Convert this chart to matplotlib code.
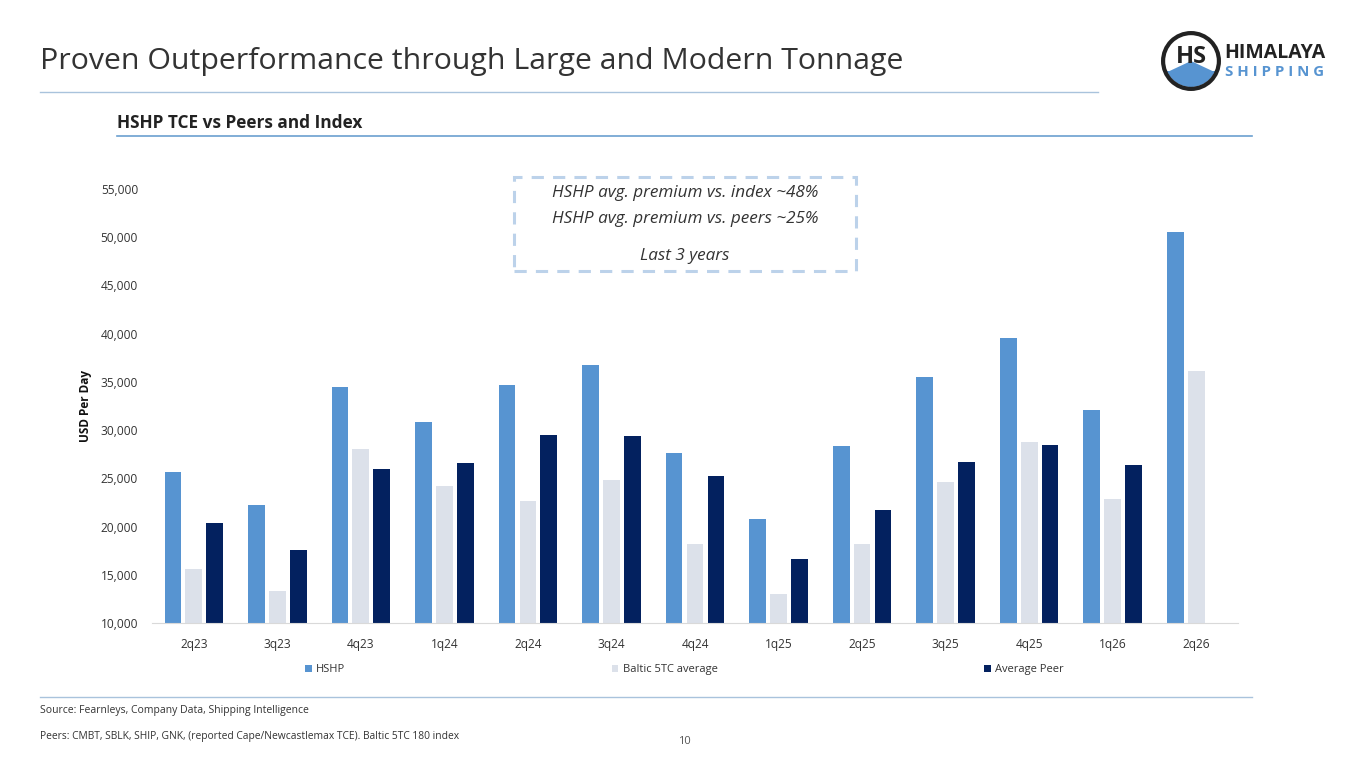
import matplotlib
import numpy as np

matplotlib.use("Agg")
import matplotlib.pyplot as plt  # noqa: E402
from matplotlib.patches import Circle, Rectangle, Wedge  # noqa: E402

plt.rcParams["font.family"] = ["Open Sans", "DejaVu Sans"]

# values, USD per day
quarters = ["2q23", "3q23", "4q23", "1q24", "2q24", "3q24", "4q24",
            "1q25", "2q25", "3q25", "4q25", "1q26", "2q26"]
hshp = [25630, 22200, 34480, 30820, 34700, 36800, 27670,
        20820, 28360, 35550, 39530, 32100, 50490]
baltic = [15600, 13350, 28080, 24180, 22600, 24830, 18200,
          13010, 18200, 24600, 28810, 22830, 36170]
peer = [20320, 17570, 25980, 26630, 29480, 29380, 25270,
        16660, 21720, 26680, 28480, 26370, np.nan]

SERIES = [("HSHP", hshp, "#5794d1"),
          ("Baltic 5TC average", baltic, "#dce1ea"),
          ("Average Peer", peer, "#03215f")]

fig = plt.figure(figsize=(13.65, 7.68), dpi=100)
W, H = 1365, 768


def fx(px):
    return px / W


def fy(py):
    return 1 - py / H


# header
fig.text(fx(40), fy(61), "Proven Outperformance through Large and Modern Tonnage",
         fontsize=21.8, color="#333333", va="center", ha="left")
fig.add_artist(plt.Line2D([fx(40), fx(1098)], [fy(92), fy(92)], color="#a9c3dc", lw=1))
fig.text(fx(117), fy(123), "HSHP TCE vs Peers and Index", fontsize=12.4, fontweight="bold",
         color="#222222", va="center", ha="left")
fig.add_artist(plt.Line2D([fx(117), fx(1252)], [fy(136), fy(136)], color="#6b9fd0", lw=1.2))

# logo
lg = fig.add_axes([fx(1160), fy(92), fx(62), 62 / H])
lg.set_xlim(-1, 1)
lg.set_ylim(-1, 1)
lg.set_aspect("equal")
lg.axis("off")
lg.add_patch(Wedge((0, 0), 0.84, 205, 335, color="#5794d1", lw=0))
lg.add_patch(Rectangle((-0.76, -0.38), 1.52, 0.06, color="#5794d1", lw=0))
lg.add_patch(Circle((0, 0), 0.9, fill=False, ec="#222222", lw=3))
lg.text(0, 0.12, "HS", fontsize=17, fontweight="bold", color="#222222", ha="center", va="center")
fig.text(fx(1224), fy(53), "HIMALAYA", fontsize=14, fontweight="bold", color="#222222",
         va="center", ha="left")
fig.text(fx(1225), fy(72), "S H I P P I N G", fontsize=10.8, fontweight="bold", color="#5794d1",
         va="center", ha="left")

# chart
ax = fig.add_axes([fx(152), fy(623), fx(1238 - 152), (623 - 189) / H])
x = np.arange(len(quarters))
step, width = 0.25, 0.2
for i, (label, vals, col) in enumerate(SERIES):
    ax.bar(x + (i - 1) * step, vals, width=width, color=col, label=label, zorder=2)

ax.set_xlim(-0.5, len(quarters) - 0.5)
ax.set_ylim(10000, 55000)
ax.set_yticks(np.arange(10000, 55001, 5000))
ax.yaxis.set_major_formatter(matplotlib.ticker.FuncFormatter(lambda v, p: f"{v:,.0f}"))
ax.set_xticks(x)
ax.set_xticklabels(quarters)
ax.tick_params(axis="both", length=0, labelsize=8.6, colors="#333333")
ax.tick_params(axis="y", pad=10)
ax.tick_params(axis="x", pad=11)
for s in ["top", "right", "left"]:
    ax.spines[s].set_visible(False)
ax.spines["bottom"].set_color("#d9d9d9")
ax.set_ylabel("USD Per Day", fontsize=8.5, fontweight="bold", color="#111111", labelpad=6)

fig.legend(loc="lower left", bbox_to_anchor=(fx(305), fy(675), fx(1064 - 305), 12 / H),
           mode="expand", ncol=3, frameon=False, fontsize=8, handlelength=0.6,
           handleheight=0.6, handletextpad=0.4, borderaxespad=0, borderpad=0,
           labelcolor="#333333")

# callout box
box = Rectangle((fx(514), fy(271)), fx(856 - 514), (271 - 177) / H, transform=fig.transFigure,
                fill=False, ec="#bcd2ea", lw=2.2, ls=(0, (4, 3)))
fig.add_artist(box)
for txt, py in [("HSHP avg. premium vs. index ~48%", 193),
                ("HSHP avg. premium vs. peers ~25%", 219),
                ("Last 3 years", 256)]:
    fig.text(fx(685), fy(py), txt, fontsize=12.3, style="italic", color="#333333",
             ha="center", va="center")

# footer
fig.add_artist(plt.Line2D([fx(40), fx(1252)], [fy(697), fy(697)], color="#a9c3dc", lw=1))
fig.text(fx(40), fy(711), "Source: Fearnleys, Company Data, Shipping Intelligence",
         fontsize=7.5, color="#333333", va="center", ha="left")
fig.text(fx(40), fy(736), "Peers: CMBT, SBLK, SHIP, GNK, (reported Cape/Newcastlemax TCE). Baltic 5TC 180 index",
         fontsize=7.4, color="#333333", va="center", ha="left")
fig.text(fx(684), fy(741), "10", fontsize=8, color="#555555", va="center", ha="center")

fig.savefig("out.png", dpi=100)
